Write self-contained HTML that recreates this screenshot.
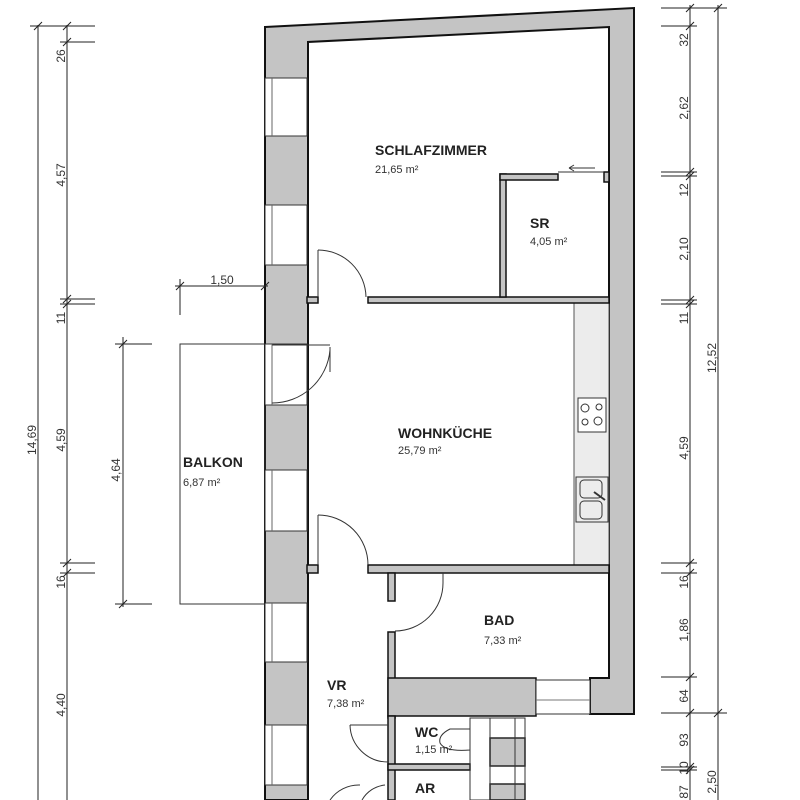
<!DOCTYPE html>
<html><head><meta charset="utf-8"><style>
html,body{margin:0;padding:0;background:#fff}
svg{display:block;font-family:"Liberation Sans",Arial,sans-serif}
.n{font-size:14px;font-weight:bold;fill:#222}
.a{font-size:11px;fill:#333}
.d{font-size:12px;fill:#333}
</style></head><body>
<svg width="800" height="800" viewBox="0 0 800 800" xmlns="http://www.w3.org/2000/svg">
<g stroke="#111" stroke-width="1">
<!-- outer shell -->
<polygon points="265,27 634,8 634,714 590,714 590,678 609,678 609,27 308,42 308,800 265,800" fill="#c4c4c4" stroke-width="2"/>
</g>
<!-- windows left -->
<g fill="#fff" stroke="#333" stroke-width="1">
<rect x="265" y="78" width="42" height="58"/>
<rect x="265" y="205" width="42" height="60"/>
<rect x="265" y="344" width="42" height="61"/>
<rect x="265" y="470" width="42" height="61"/>
<rect x="265" y="603" width="42" height="59"/>
<rect x="265" y="725" width="42" height="60"/>
</g>
<g stroke="#666" stroke-width="1">
<line x1="272" y1="78" x2="272" y2="136"/><line x1="272" y1="205" x2="272" y2="265"/>
<line x1="272" y1="344" x2="272" y2="405"/><line x1="272" y1="470" x2="272" y2="531"/>
<line x1="272" y1="603" x2="272" y2="662"/><line x1="272" y1="725" x2="272" y2="785"/>
</g>
<!-- kitchen counter -->
<rect x="574" y="303" width="35" height="262" fill="#ececec" stroke="#555"/>
<rect x="578" y="398" width="28" height="34" fill="#fff" stroke="#333"/>
<g fill="none" stroke="#333"><circle cx="585" cy="408" r="4"/><circle cx="599" cy="407" r="3"/><circle cx="585" cy="422" r="3"/><circle cx="598" cy="421" r="4"/>
<rect x="576" y="477" width="32" height="45" fill="#ececec"/>
<rect x="580" y="480" width="22" height="18" rx="4"/><rect x="580" y="501" width="22" height="18" rx="4"/>
<line x1="594" y1="492" x2="605" y2="500" stroke-width="2"/></g>
<!-- interior walls -->
<g fill="#c4c4c4" stroke="#111" stroke-width="1.5">
<rect x="307" y="297" width="11" height="6"/>
<rect x="368" y="297" width="241" height="6"/>
<rect x="500" y="174" width="6" height="123"/>
<rect x="500" y="174" width="58" height="6"/>
<rect x="604" y="172" width="5" height="10"/>
<rect x="307" y="565" width="11" height="8"/>
<rect x="368" y="565" width="241" height="8"/>
<rect x="388" y="573" width="7" height="28"/>
<rect x="388" y="632" width="7" height="86"/>
<rect x="388" y="678" width="148" height="38"/>
<rect x="388" y="716" width="7" height="84"/>
<rect x="388" y="764" width="82" height="6"/>
<rect x="490" y="738" width="35" height="28"/>
<rect x="490" y="784" width="35" height="16"/>
</g>
<rect x="536" y="680" width="54" height="34" fill="#fff" stroke="#333"/>
<line x1="536" y1="700" x2="590" y2="700" stroke="#777"/>
<g fill="none" stroke="#333" stroke-width="1">
<rect x="470" y="718" width="20" height="82"/>
<rect x="490" y="718" width="35" height="20"/>
<rect x="490" y="766" width="35" height="18"/>
<line x1="525" y1="718" x2="525" y2="800"/><line x1="515" y1="718" x2="515" y2="800"/>
<!-- toilet -->
<path d="M470,729 L450,729 Q438,735 440,743 Q445,752 470,750 Z"/>
<!-- doors -->
<line x1="318" y1="250" x2="318" y2="297"/><path d="M318,250 A48,48 0 0 1 366,297"/>
<line x1="318" y1="515" x2="318" y2="565"/><path d="M318,515 A50,50 0 0 1 368,565"/>
<line x1="272" y1="345" x2="330" y2="345"/><line x1="330" y1="347" x2="330" y2="372"/><path d="M330,350 A58,58 0 0 1 272,403"/>
<line x1="443" y1="573" x2="443" y2="583"/><path d="M443,583 A48,48 0 0 1 395,631"/>
<line x1="350" y1="725" x2="388" y2="725"/><path d="M350,725 A38,38 0 0 0 388,762"/>
<path d="M330,800 A35,35 0 0 1 360,785"/><path d="M385,785 A30,30 0 0 0 362,800"/>
<line x1="558" y1="172" x2="604" y2="172"/>
<line x1="569" y1="168" x2="595" y2="168"/><path d="M569,168 l5,-3 M569,168 l5,3"/>
<!-- balcony -->
<rect x="180" y="344" width="85" height="260"/>
</g>
<!-- dimension lines -->
<g stroke="#222" stroke-width="1" fill="none">
<line x1="38" y1="25" x2="38" y2="800"/><line x1="67" y1="25" x2="67" y2="800"/>
<line x1="30" y1="26" x2="95" y2="26"/><line x1="60" y1="42" x2="95" y2="42"/>
<line x1="60" y1="299" x2="95" y2="299"/><line x1="60" y1="304" x2="95" y2="304"/>
<line x1="60" y1="563" x2="95" y2="563"/><line x1="60" y1="573" x2="95" y2="573"/>
<line x1="123" y1="337" x2="123" y2="607"/><line x1="115" y1="344" x2="152" y2="344"/><line x1="115" y1="604" x2="152" y2="604"/>
<line x1="180" y1="279" x2="180" y2="315"/><line x1="175" y1="286" x2="268" y2="286"/>
<line x1="690" y1="5" x2="690" y2="800"/><line x1="718" y1="5" x2="718" y2="800"/>
<line x1="661" y1="8" x2="727" y2="8"/><line x1="661" y1="26" x2="697" y2="26"/>
<line x1="661" y1="172" x2="697" y2="172"/><line x1="661" y1="176" x2="697" y2="176"/>
<line x1="661" y1="300" x2="697" y2="300"/><line x1="661" y1="304" x2="697" y2="304"/>
<line x1="661" y1="563" x2="697" y2="563"/><line x1="661" y1="573" x2="697" y2="573"/>
<line x1="661" y1="677" x2="697" y2="677"/><line x1="661" y1="713" x2="727" y2="713"/>
<line x1="661" y1="767" x2="697" y2="767"/><line x1="661" y1="770" x2="697" y2="770"/>
</g>
<g stroke="#222" stroke-width="1">
<path d="M34,30 l8,-8 M63,30 l8,-8 M63,46 l8,-8 M63,303 l8,-8 M63,308 l8,-8 M63,567 l8,-8 M63,577 l8,-8 M119,348 l8,-8 M119,608 l8,-8 M176,290 l8,-8 M261,290 l8,-8 M686,12 l8,-8 M714,12 l8,-8 M686,30 l8,-8 M686,176 l8,-8 M686,180 l8,-8 M686,304 l8,-8 M686,308 l8,-8 M686,567 l8,-8 M686,577 l8,-8 M686,681 l8,-8 M686,717 l8,-8 M714,717 l8,-8 M686,771 l8,-8 M686,774 l8,-8"/>
</g>
<g class="d">
<text transform="translate(65,56) rotate(-90)" text-anchor="middle">26</text>
<text transform="translate(65,175) rotate(-90)" text-anchor="middle">4,57</text>
<text transform="translate(65,318) rotate(-90)" text-anchor="middle">11</text>
<text transform="translate(65,440) rotate(-90)" text-anchor="middle">4,59</text>
<text transform="translate(65,582) rotate(-90)" text-anchor="middle">16</text>
<text transform="translate(65,705) rotate(-90)" text-anchor="middle">4,40</text>
<text transform="translate(36,440) rotate(-90)" text-anchor="middle">14,69</text>
<text transform="translate(120,470) rotate(-90)" text-anchor="middle">4,64</text>
<text x="222" y="284" text-anchor="middle">1,50</text>
<text transform="translate(688,40) rotate(-90)" text-anchor="middle">32</text>
<text transform="translate(688,108) rotate(-90)" text-anchor="middle">2,62</text>
<text transform="translate(688,190) rotate(-90)" text-anchor="middle">12</text>
<text transform="translate(688,249) rotate(-90)" text-anchor="middle">2,10</text>
<text transform="translate(688,318) rotate(-90)" text-anchor="middle">11</text>
<text transform="translate(688,448) rotate(-90)" text-anchor="middle">4,59</text>
<text transform="translate(688,582) rotate(-90)" text-anchor="middle">16</text>
<text transform="translate(688,630) rotate(-90)" text-anchor="middle">1,86</text>
<text transform="translate(688,696) rotate(-90)" text-anchor="middle">64</text>
<text transform="translate(688,740) rotate(-90)" text-anchor="middle">93</text>
<text transform="translate(688,768) rotate(-90)" text-anchor="middle">10</text>
<text transform="translate(688,792) rotate(-90)" text-anchor="middle">87</text>
<text transform="translate(716,358) rotate(-90)" text-anchor="middle">12,52</text>
<text transform="translate(716,782) rotate(-90)" text-anchor="middle">2,50</text>
</g>
<text class="n" x="375" y="155">SCHLAFZIMMER</text><text class="a" x="375" y="173">21,65 m²</text>
<text class="n" x="530" y="228">SR</text><text class="a" x="530" y="245">4,05 m²</text>
<text class="n" x="398" y="438">WOHNKÜCHE</text><text class="a" x="398" y="454">25,79 m²</text>
<text class="n" x="183" y="467">BALKON</text><text class="a" x="183" y="486">6,87 m²</text>
<text class="n" x="484" y="625">BAD</text><text class="a" x="484" y="644">7,33 m²</text>
<text class="n" x="327" y="690">VR</text><text class="a" x="327" y="707">7,38 m²</text>
<text class="n" x="415" y="737">WC</text><text class="a" x="415" y="753">1,15 m²</text>
<text class="n" x="415" y="793">AR</text>
</svg>
</body></html>
